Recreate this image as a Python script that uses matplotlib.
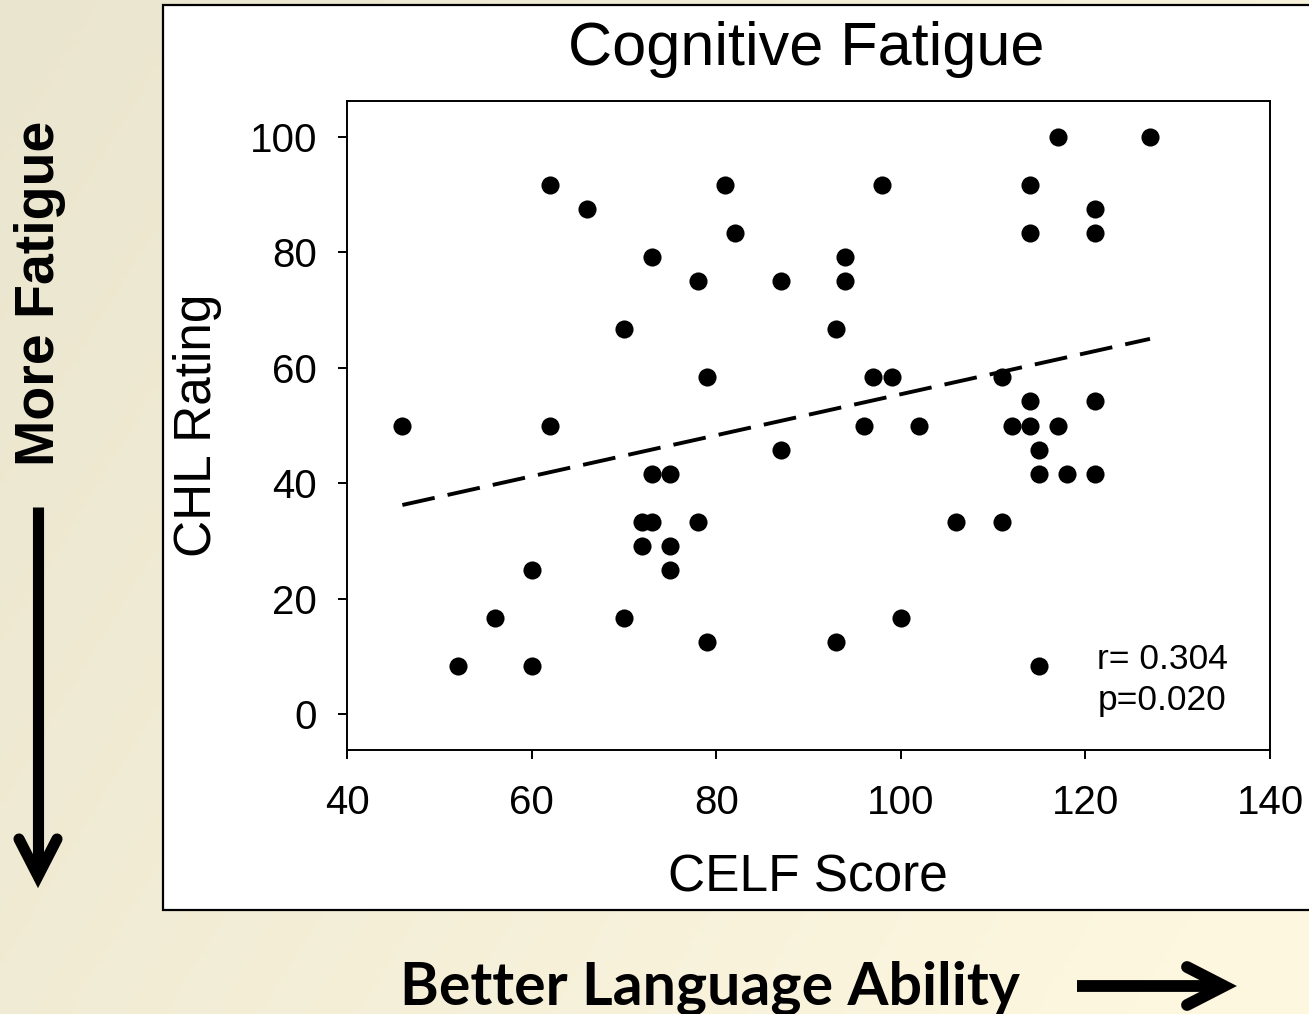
import numpy as np
import matplotlib
matplotlib.use("Agg")
import matplotlib.pyplot as plt
from matplotlib.patches import Rectangle
from matplotlib.lines import Line2D

# ---- data ----
celf = [46, 52, 56, 60, 60, 62, 62, 66, 70, 70, 72, 72, 73, 73, 73, 75, 75, 75,
        78, 78, 79, 79, 81, 82, 87, 87, 93, 93, 94, 94, 96, 97, 98, 99, 100, 102,
        106, 111, 111, 112, 114, 114, 114, 114, 115, 115, 115, 117, 117, 118,
        121, 121, 121, 121, 127]
chl = [50, 8.33, 16.67, 25, 8.33, 91.67, 50, 87.5, 66.67, 16.67, 33.33, 29.17, 79.17, 41.67, 33.33, 41.67, 29.17, 25,
       75, 33.33, 58.33, 12.5, 91.67, 83.33, 75, 45.83, 66.67, 12.5, 79.17, 75, 50, 58.33, 91.67, 58.33, 16.67, 50,
       33.33, 58.33, 33.33, 50, 91.67, 83.33, 54.17, 50, 45.83, 41.67, 8.33, 100, 50, 41.67,
       87.5, 83.33, 54.17, 41.67, 100]
xticks = [40, 60, 80, 100, 120, 140]
yticks = [0, 20, 40, 60, 80, 100]
title = "Cognitive Fatigue"
xlabel = "CELF Score"
ylabel = "CHL Rating"
stats_lines = ["r= 0.304", "p=0.020"]

W, H = 1309, 1014
fig = plt.figure(figsize=(W / 100, H / 100), dpi=100)

def fx(px):
    return px / W

def fy(py):
    return 1 - py / H

# background gradient
bg = fig.add_axes([0, 0, 1, 1], zorder=-10)
bg.set_axis_off()
gx = np.linspace(0, 1, 256)[None, :]
gy = np.linspace(0, 1, 256)[:, None]
t = np.clip(0.75 * gx + 0.35 * gy, 0, 1)
c0 = np.array([234, 229, 206]) / 255
c1 = np.array([253, 247, 224]) / 255
img = c0[None, None, :] * (1 - t[..., None]) + c1[None, None, :] * t[..., None]
bg.imshow(img, aspect="auto", extent=[0, 1, 0, 1], origin="upper")
bg.set_xlim(0, 1)
bg.set_ylim(0, 1)

# white panel
fig.patches.append(Rectangle((fx(163), fy(910)), fx(1320) - fx(163), fy(5) - fy(910),
                             transform=fig.transFigure, facecolor="white",
                             edgecolor="black", linewidth=1.6, zorder=-5))

FONT = ["Liberation Sans", "DejaVu Sans"]

ax = fig.add_axes([fx(347), fy(750), fx(1270) - fx(347), fy(101) - fy(750)])
ax.set_facecolor("white")
ax.scatter(celf, chl, s=170, color="black", zorder=3, linewidths=0)

coef = np.polyfit(celf, chl, 1)
xl = np.array([min(celf), max(celf)])
ax.plot(xl, np.polyval(coef, xl), color="black", lw=2.8, dashes=(8.5, 3.4), zorder=2)

ax.set_xlim(40, 140)
ax.set_ylim(-6.25, 106.25)
ax.set_xticks(xticks)
ax.set_yticks(yticks)
ax.set_xticklabels([str(v) for v in xticks], fontfamily=FONT, fontsize=29)
ax.set_yticklabels([str(v) for v in yticks], fontfamily=FONT, fontsize=29)
ax.tick_params(axis="both", direction="out", length=6.5, width=1.4, color="black")
ax.tick_params(axis="y", pad=15)
ax.tick_params(axis="x", pad=18)
for sp in ax.spines.values():
    sp.set_linewidth(1.4)
    sp.set_color("black")

ax.text(121.3, 9.4, stats_lines[0], fontfamily=FONT, fontsize=25.5, ha="left", va="center")
ax.text(121.3, 2.4, stats_lines[1], fontfamily=FONT, fontsize=25.5, ha="left", va="center")

fig.text(fx(806), fy(49), title, fontfamily=FONT, fontsize=44, ha="center", va="center")
fig.text(fx(808), fy(878), xlabel, fontfamily=FONT, fontsize=37, ha="center", va="center")
fig.text(fx(197), fy(425), ylabel, fontfamily=FONT, fontsize=37, ha="center", va="center",
         rotation=90)

# side annotations
fig.text(fx(40), fy(293), "More Fatigue", fontfamily=FONT, fontweight="bold", fontsize=40,
         ha="center", va="center", rotation=90)
fig.text(fx(710), fy(989), "Better Language Ability", fontfamily=["Lato", "DejaVu Sans"],
         fontweight="bold", fontsize=42.5, ha="center", va="center")

def arrow(pts_shaft, pts_head, lw):
    xs, ys = zip(*pts_shaft)
    fig.add_artist(Line2D([fx(x) for x in xs], [fy(y) for y in ys], transform=fig.transFigure,
                          color="black", lw=lw, solid_capstyle="butt"))
    xs, ys = zip(*pts_head)
    fig.add_artist(Line2D([fx(x) for x in xs], [fy(y) for y in ys], transform=fig.transFigure,
                          color="black", lw=lw, solid_capstyle="round", solid_joinstyle="miter"))

arrow([(38, 507), (38, 874)], [(19, 839), (38, 876), (57, 839)], 8)
arrow([(1077, 986), (1220, 986)], [(1187, 967), (1224, 986), (1187, 1005)], 8.5)

fig.savefig("out.png", dpi=100)
